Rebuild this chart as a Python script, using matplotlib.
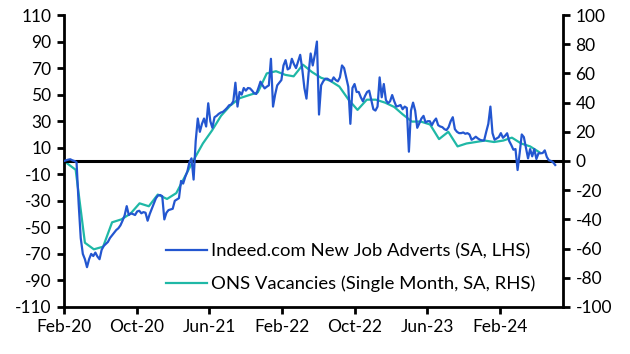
import numpy as np
import pandas as pd
import matplotlib
matplotlib.use('Agg')
from matplotlib import pyplot as plt
import matplotlib.dates as mdates

plt.rcParams['font.family'] = ['Lato', 'DejaVu Sans']
plt.rcParams['axes.unicode_minus'] = False

# Indeed.com new job adverts, % vs Feb-20 baseline (weekly, LHS)
indeed = [
    0, 0.5, 1, 1.3, 0.5, 0, -1, -32, -58, -70,
    -74, -80, -74, -70, -71.6, -69, -72, -74, -67, -64,
    -62.5, -61, -58, -56, -54, -52, -50.7, -48.5, -45, -41,
    -34, -40.7, -39.5, -40, -40.7, -38, -37.5, -39.4, -38.5, -39,
    -45, -40, -36, -32, -28, -26, -25.6, -26.5, -44, -39,
    -37, -36.5, -36, -30, -29, -28, -15, -17, -12, -8,
    -1, 2, -14, 15, 32, 22, 28, 32, 26, 43.5,
    30, 25, 33, 34, 35.5, 36.5, 37, 38.4, 40, 42,
    42.5, 45, 59, 41, 52, 50, 55, 53, 55, 54.7,
    53, 51, 50.5, 55, 59.8, 57, 54.7, 56, 57, 77,
    41, 50, 57, 59, 61, 72, 76, 69, 70, 77,
    73, 70, 75, 80, 69, 55, 47, 66, 81, 72,
    80, 90, 35, 57, 60, 62, 62, 61, 60, 63,
    61, 60, 63, 72, 70, 63, 56, 28, 55, 58,
    52, 52, 48, 45, 49, 52, 53, 46, 39, 38,
    41, 63, 48, 58, 46, 43.5, 45, 49.7, 45, 41,
    41.5, 42.2, 39, 41, 40, 7, 38, 44, 38, 25,
    28.4, 32, 34, 29, 30, 30, 27, 30, 32, 27,
    26, 25.5, 24, 23.3, 25.5, 30, 33, 24, 22, 21,
    21, 21.5, 20.5, 21, 20, 16, 17, 18.3, 17, 16,
    15.5, 15.5, 22, 28, 41, 21, 16, 17, 18, 21,
    17.5, 19, 20.9, 15, 12, 8.5, 9, -6.8, 6, 20,
    18, 10, 2, 9, 3.5, 9, 1.5, 5.8, 5.8, 6,
    8, 3, 0.5, 0, -1, -3,
]

# ONS vacancies, single month, % vs Feb-20 (monthly, RHS), Feb-20 .. Jun-24
ons = [
    0, -6, -56, -60.5, -58.7, -42, -40, -36, -29, -31,
    -23, -26, -22, -11, 1, 12, 21, 31, 38, 43,
    45, 47, 60, 61.5, 59, 58, 66, 61, 57, 55,
    51, 42, 35, 42, 42, 40, 37, 32, 27, 27,
    25, 15, 20, 10, 12, 13, 14, 13, 14, 16,
    12, 10, 6,
]

tick_dates = pd.date_range('2020-02-01', periods=7, freq='8MS')

indeed_dates = pd.date_range('2020-02-01', periods=len(indeed), freq='7D')
month_starts = pd.date_range('2020-02-01', periods=len(ons), freq='MS')
# monthly readings sit a little into each month; the base month starts at the axis
ons_dates = [d if i == 0 else d + pd.Timedelta(days=10) for i, d in enumerate(month_starts)]

blue = '#2356d0'
teal = '#1fb8a6'

fig = plt.figure(figsize=(6.3, 3.54), dpi=100)
ax = fig.add_axes([0.1016, 0.1328, 0.792, 0.8248])
ax2 = ax.twinx()

l1, = ax.plot(indeed_dates, indeed, color=blue, lw=1.6,
              label='Indeed.com New Job Adverts (SA, LHS)', zorder=3)
l2, = ax2.plot(ons_dates, ons, color=teal, lw=1.6,
               label='ONS Vacancies (Single Month, SA, RHS)', zorder=2)
ax.axhline(0, color='black', lw=2.2, zorder=1)

ax.set_ylim(-110, 110)
ax.set_yticks(np.arange(-110, 111, 20))
ax2.set_ylim(-100, 100)
ax2.set_yticks(np.arange(-100, 101, 20))
ax.set_xlim(pd.Timestamp('2020-02-01'), pd.Timestamp('2024-08-29'))
ax.set_xticks(tick_dates)
ax.xaxis.set_major_formatter(mdates.DateFormatter('%b-%y'))

ax.set_zorder(ax2.get_zorder() + 1)
ax.patch.set_visible(False)

for a in (ax, ax2):
    a.spines['top'].set_visible(False)
    for s in ('left', 'right', 'bottom'):
        a.spines[s].set_linewidth(2)
    a.tick_params(width=2, length=5, labelsize=12.5, colors='black', pad=4)
ax.spines['right'].set_visible(False)
ax2.spines['left'].set_visible(False)
ax2.spines['bottom'].set_visible(False)

ax.legend(handles=[l1, l2], loc='upper left', bbox_to_anchor=(0.19, 0.245),
          frameon=False, fontsize=13.3, handlelength=2.2, handletextpad=0.25,
          labelspacing=0.9, borderaxespad=0)

plt.savefig('out.png', dpi=100)
